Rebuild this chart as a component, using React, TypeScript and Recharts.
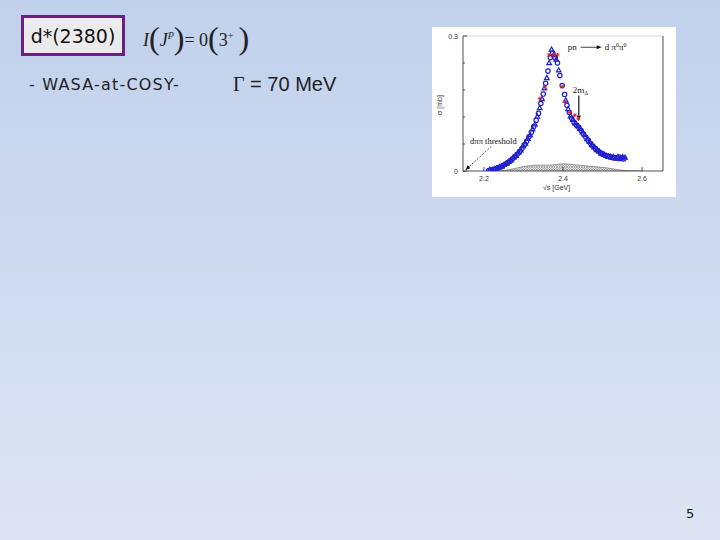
import React from 'react';
import {
  ComposedChart,
  Scatter,
  Area,
  XAxis,
  YAxis,
  ReferenceLine,
  ReferenceDot,
} from 'recharts';

// WASA-at-COSY pn -> d pi0 pi0, sqrt(s) [GeV] vs sigma [mb]
const blueCircles = [
  { s: 2.212, v: 0.001 }, { s: 2.218, v: 0.002 }, { s: 2.224, v: 0.003 }, { s: 2.230, v: 0.005 },
  { s: 2.236, v: 0.007 }, { s: 2.242, v: 0.009 }, { s: 2.248, v: 0.012 }, { s: 2.254, v: 0.015 },
  { s: 2.260, v: 0.019 }, { s: 2.266, v: 0.022 }, { s: 2.272, v: 0.027 }, { s: 2.278, v: 0.032 },
  { s: 2.284, v: 0.037 }, { s: 2.290, v: 0.043 }, { s: 2.296, v: 0.050 }, { s: 2.302, v: 0.058 },
  { s: 2.308, v: 0.066 }, { s: 2.314, v: 0.076 }, { s: 2.320, v: 0.086 }, { s: 2.326, v: 0.099 },
  { s: 2.332, v: 0.113 }, { s: 2.338, v: 0.128 }, { s: 2.344, v: 0.150 }, { s: 2.350, v: 0.171 },
  { s: 2.356, v: 0.195 }, { s: 2.362, v: 0.222 }, { s: 2.368, v: 0.252 }, { s: 2.374, v: 0.262 },
  { s: 2.380, v: 0.252 }, { s: 2.386, v: 0.240 }, { s: 2.392, v: 0.212 }, { s: 2.398, v: 0.190 },
  { s: 2.404, v: 0.170 }, { s: 2.410, v: 0.146 }, { s: 2.416, v: 0.130 }, { s: 2.422, v: 0.117 },
  { s: 2.428, v: 0.108 }, { s: 2.434, v: 0.102 }, { s: 2.440, v: 0.097 }, { s: 2.446, v: 0.090 },
  { s: 2.452, v: 0.082 }, { s: 2.458, v: 0.075 }, { s: 2.464, v: 0.068 }, { s: 2.470, v: 0.061 },
  { s: 2.476, v: 0.055 }, { s: 2.482, v: 0.050 }, { s: 2.488, v: 0.045 }, { s: 2.494, v: 0.041 },
  { s: 2.500, v: 0.038 }, { s: 2.506, v: 0.035 }, { s: 2.512, v: 0.033 }, { s: 2.518, v: 0.031 },
  { s: 2.524, v: 0.030 }, { s: 2.530, v: 0.030 }, { s: 2.536, v: 0.029 }, { s: 2.542, v: 0.031 },
  { s: 2.548, v: 0.029 }, { s: 2.554, v: 0.027 },
];

const blueTriangles = [
  { s: 2.215, v: 0.003 }, { s: 2.221, v: 0.002 }, { s: 2.227, v: 0.005 }, { s: 2.233, v: 0.006 },
  { s: 2.239, v: 0.009 }, { s: 2.245, v: 0.010 }, { s: 2.251, v: 0.014 }, { s: 2.257, v: 0.016 },
  { s: 2.263, v: 0.021 }, { s: 2.269, v: 0.024 }, { s: 2.275, v: 0.030 }, { s: 2.281, v: 0.034 },
  { s: 2.287, v: 0.041 }, { s: 2.293, v: 0.046 }, { s: 2.299, v: 0.055 }, { s: 2.305, v: 0.061 },
  { s: 2.311, v: 0.072 }, { s: 2.317, v: 0.080 }, { s: 2.323, v: 0.093 }, { s: 2.329, v: 0.104 },
  { s: 2.335, v: 0.121 }, { s: 2.341, v: 0.140 }, { s: 2.347, v: 0.160 }, { s: 2.353, v: 0.184 },
  { s: 2.359, v: 0.207 }, { s: 2.365, v: 0.240 }, { s: 2.371, v: 0.270 }, { s: 2.377, v: 0.258 },
  { s: 2.383, v: 0.248 }, { s: 2.389, v: 0.224 }, { s: 2.407, v: 0.157 }, { s: 2.413, v: 0.138 },
  { s: 2.419, v: 0.122 }, { s: 2.425, v: 0.114 }, { s: 2.431, v: 0.106 }, { s: 2.437, v: 0.100 },
  { s: 2.443, v: 0.094 }, { s: 2.449, v: 0.086 }, { s: 2.455, v: 0.080 }, { s: 2.461, v: 0.071 },
  { s: 2.467, v: 0.065 }, { s: 2.473, v: 0.058 }, { s: 2.479, v: 0.053 }, { s: 2.485, v: 0.047 },
  { s: 2.491, v: 0.044 }, { s: 2.497, v: 0.039 }, { s: 2.503, v: 0.037 }, { s: 2.509, v: 0.034 },
  { s: 2.515, v: 0.032 }, { s: 2.521, v: 0.032 }, { s: 2.527, v: 0.031 }, { s: 2.533, v: 0.028 },
  { s: 2.539, v: 0.031 }, { s: 2.545, v: 0.027 }, { s: 2.551, v: 0.031 }, { s: 2.557, v: 0.030 },
];

const redStars = [
  { s: 2.342, v: 0.161 }, { s: 2.354, v: 0.187 }, { s: 2.365, v: 0.258 }, { s: 2.377, v: 0.258 },
  { s: 2.386, v: 0.258 }, { s: 2.398, v: 0.187 }, { s: 2.405, v: 0.154 }, { s: 2.418, v: 0.130 },
  { s: 2.430, v: 0.124 }, { s: 2.439, v: 0.116 },
];

const background = [
  { s: 2.240, v: 0.000 }, { s: 2.270, v: 0.004 }, { s: 2.300, v: 0.010 }, { s: 2.330, v: 0.013 },
  { s: 2.360, v: 0.013 }, { s: 2.380, v: 0.014 }, { s: 2.400, v: 0.016 }, { s: 2.420, v: 0.015 },
  { s: 2.450, v: 0.012 }, { s: 2.480, v: 0.010 }, { s: 2.510, v: 0.007 }, { s: 2.540, v: 0.003 },
  { s: 2.560, v: 0.001 }, { s: 2.600, v: 0.000 },
];

const xTicks = [2.2, 2.4, 2.6];
const yTicks = [0, 0.02, 0.04, 0.06, 0.08, 0.1, 0.12, 0.14, 0.16, 0.18, 0.2, 0.22, 0.24, 0.26, 0.28, 0.3];

const BLUE = '#2020cc';
const RED = '#d8203a';

const YTick = (props: any) => {
  const { x, y, payload } = props;
  const major = Math.abs(Math.round(payload.value * 10) - payload.value * 10) < 1e-6;
  return (
    <g>
      <line x1={x} x2={x + (major ? 4 : 2)} y1={y} y2={y} stroke="#222" strokeWidth={0.8} />
      {major && (
        <text x={x - 5} y={y + 2.5} textAnchor="end" fontSize={7} fill="#333" fontFamily="Liberation Sans">
          {payload.value === 0 ? '0' : payload.value.toFixed(1)}
        </text>
      )}
    </g>
  );
};

const XTick = (props: any) => {
  const { x, y, payload } = props;
  return (
    <g>
      <line x1={x} x2={x} y1={y} y2={y - 4} stroke="#222" strokeWidth={0.8} />
      <text x={x} y={y + 10} textAnchor="middle" fontSize={7} fill="#333" fontFamily="Liberation Sans">
        {payload.value.toFixed(1)}
      </text>
    </g>
  );
};

const circle = (p: any) => (
  <circle cx={p.cx} cy={p.cy} r={2.2} fill="none" stroke={BLUE} strokeWidth={1.2} />
);
const triangle = (p: any) => (
  <polygon
    points={`${p.cx},${p.cy - 2.5} ${p.cx - 2.3},${p.cy + 1.7} ${p.cx + 2.3},${p.cy + 1.7}`}
    fill="none"
    stroke={BLUE}
    strokeWidth={1.2}
  />
);
const star = (p: any) => (
  <g stroke={RED} strokeWidth={1}>
    <line x1={p.cx - 2} x2={p.cx + 2} y1={p.cy} y2={p.cy} />
    <line x1={p.cx} x2={p.cx} y1={p.cy - 2} y2={p.cy + 2} />
    <line x1={p.cx - 1.5} x2={p.cx + 1.5} y1={p.cy - 1.5} y2={p.cy + 1.5} />
    <line x1={p.cx - 1.5} x2={p.cx + 1.5} y1={p.cy + 1.5} y2={p.cy - 1.5} />
  </g>
);

const arrowShape = (dashed: boolean) => (p: any) => {
  const { x1, y1, x2, y2 } = p;
  const ang = Math.atan2(y2 - y1, x2 - x1);
  const L = 5;
  const W = 2;
  const bx = x2 - L * Math.cos(ang);
  const by = y2 - L * Math.sin(ang);
  const px = -Math.sin(ang) * W;
  const py = Math.cos(ang) * W;
  return (
    <g>
      <line x1={x1} y1={y1} x2={bx} y2={by} stroke="#111" strokeWidth={dashed ? 0.7 : 1.2} strokeDasharray={dashed ? '2 1.5' : undefined} />
      <polygon points={`${x2},${y2} ${bx + px},${by + py} ${bx - px},${by - py}`} fill="#111" />
    </g>
  );
};

const Chart = () => (
  <ComposedChart width={244} height={170} margin={{ top: 9, right: 13, left: 9, bottom: 0 }}>
    <XAxis
      type="number"
      dataKey="s"
      domain={[2.147, 2.653]}
      ticks={xTicks}
      tick={<XTick />}
      tickSize={0}
      tickMargin={0}
      tickLine={false}
      height={26}
      allowDataOverflow
      axisLine={{ stroke: '#222', strokeWidth: 0.8 }}
    />
    <YAxis
      type="number"
      dataKey="v"
      domain={[0, 0.3]}
      ticks={yTicks}
      tick={<YTick />}
      tickSize={0}
      tickMargin={0}
      tickLine={false}
      width={22}
      allowDataOverflow
      axisLine={{ stroke: '#222', strokeWidth: 0.8 }}
    />
    <ReferenceLine x={2.653} stroke="#222" strokeWidth={0.8} />
    <ReferenceLine y={0.3} stroke="#bbb" strokeWidth={0.6} />
    <Area
      data={background}
      dataKey="v"
      type="monotone"
      stroke="#666"
      strokeWidth={0.6}
      fill="url(#hatch)"
      fillOpacity={1}
      isAnimationActive={false}
    />
    <Scatter data={blueCircles} shape={circle} isAnimationActive={false} />
    <Scatter data={blueTriangles} shape={triangle} isAnimationActive={false} />
    <Scatter data={redStars} shape={star} isAnimationActive={false} />
    <ReferenceLine segment={[{ x: 2.44, y: 0.168 }, { x: 2.44, y: 0.112 }]} shape={arrowShape(false)} />
    <ReferenceLine segment={[{ x: 2.219, y: 0.055 }, { x: 2.153, y: 0.002 }]} shape={arrowShape(true)} />
    <ReferenceDot
      x={2.47}
      y={0.275}
      r={0}
      shape={(p: any) => (
        <g fontFamily="Liberation Serif" fontSize={9} fill="#111">
          <text x={p.cx - 23} y={p.cy + 3}>pn</text>
          <line x1={p.cx - 10} x2={p.cx + 7} y1={p.cy} y2={p.cy} stroke="#111" strokeWidth={0.8} />
          <polygon points={`${p.cx + 11},${p.cy} ${p.cx + 6},${p.cy - 2} ${p.cx + 6},${p.cy + 2}`} fill="#111" />
          <text x={p.cx + 14} y={p.cy + 3}>
            d π<tspan fontSize={6} dy={-3}>0</tspan><tspan dy={3}>π</tspan><tspan fontSize={6} dy={-3}>0</tspan>
          </text>
        </g>
      )}
    />
    <ReferenceDot
      x={2.44}
      y={0.18}
      r={0}
      shape={(p: any) => (
        <text x={p.cx - 6} y={p.cy + 3} fontFamily="Liberation Serif" fontSize={9} fill="#111">
          2m<tspan fontSize={6} dy={2}>Δ</tspan>
        </text>
      )}
    />
    <ReferenceDot
      x={2.165}
      y={0.066}
      r={0}
      shape={(p: any) => (
        <text x={p.cx} y={p.cy + 3} fontFamily="Liberation Serif" fontSize={8.5} fill="#111">
          dππ threshold
        </text>
      )}
    />
  </ComposedChart>
);

export default function App() {
  return (
    <div
      style={{
        position: 'fixed',
        left: 0,
        top: 0,
        width: 720,
        height: 540,
        overflow: 'hidden',
        background: 'linear-gradient(to bottom, #c1d1ec 0%, #dde4f3 100%)',
        fontFamily: 'DejaVu Sans',
      }}
    >
      <svg width={0} height={0} style={{ position: 'absolute' }}>
        <defs>
          <pattern id="hatch" width={2.5} height={2.5} patternUnits="userSpaceOnUse">
            <path d="M0,0 L2.5,2.5 M2.5,0 L0,2.5" stroke="#555" strokeWidth={0.5} />
          </pattern>
        </defs>
      </svg>

      <div
        style={{
          position: 'absolute',
          left: 21,
          top: 15,
          width: 98,
          height: 35,
          border: '3px solid #6b1f7e',
          background: '#ebebeb',
          display: 'flex',
          alignItems: 'center',
          justifyContent: 'center',
          fontSize: 19,
          color: '#111',
        }}
      >
        d*(2380)
      </div>

      <div
        style={{
          position: 'absolute',
          left: 143,
          top: 18,
          fontFamily: 'Liberation Serif',
          fontSize: 18,
          color: '#222',
          whiteSpace: 'nowrap',
          lineHeight: '36px',
        }}
      >
        <i>I</i>
        <span style={{ fontSize: 32, verticalAlign: '-3px' }}>(</span>
        <i>J</i>
        <sup style={{ fontSize: 10 }}><i>P</i></sup>
        <span style={{ fontSize: 32, verticalAlign: '-3px' }}>)</span>
        = 0
        <span style={{ fontSize: 32, verticalAlign: '-3px' }}>(</span>
        3<sup style={{ fontSize: 10 }}>+</sup>
        <span style={{ fontSize: 32, verticalAlign: '-3px', marginLeft: 5 }}>)</span>
      </div>

      <div style={{ position: 'absolute', left: 29, top: 75, fontSize: 16, color: '#222', letterSpacing: 1.2, whiteSpace: 'nowrap' }}>
        - WASA-at-COSY-
      </div>

      <div style={{ position: 'absolute', left: 233, top: 73, fontSize: 20, color: '#222', whiteSpace: 'nowrap', fontFamily: 'Liberation Sans' }}>
        <span style={{ fontFamily: 'Liberation Serif' }}>Γ</span> = 70 MeV
      </div>

      <div style={{ position: 'absolute', left: 432, top: 27, width: 244, height: 170, background: '#fff' }}>
        <Chart />
        <div
          style={{
            position: 'absolute',
            left: 0,
            top: 78,
            width: 14,
            height: 0,
            transform: 'rotate(-90deg)',
            fontSize: 7,
            fontFamily: 'Liberation Sans',
            color: '#333',
            whiteSpace: 'nowrap',
            display: 'flex',
            justifyContent: 'center',
            alignItems: 'center',
          }}
        >
          σ [mb]
        </div>
        <div
          style={{
            position: 'absolute',
            left: 111,
            top: 157,
            fontSize: 7,
            fontFamily: 'Liberation Sans',
            color: '#333',
            whiteSpace: 'nowrap',
          }}
        >
          √s [GeV]
        </div>
      </div>

      <div style={{ position: 'absolute', left: 686, top: 506, fontSize: 13, color: '#111' }}>5</div>
    </div>
  );
}
